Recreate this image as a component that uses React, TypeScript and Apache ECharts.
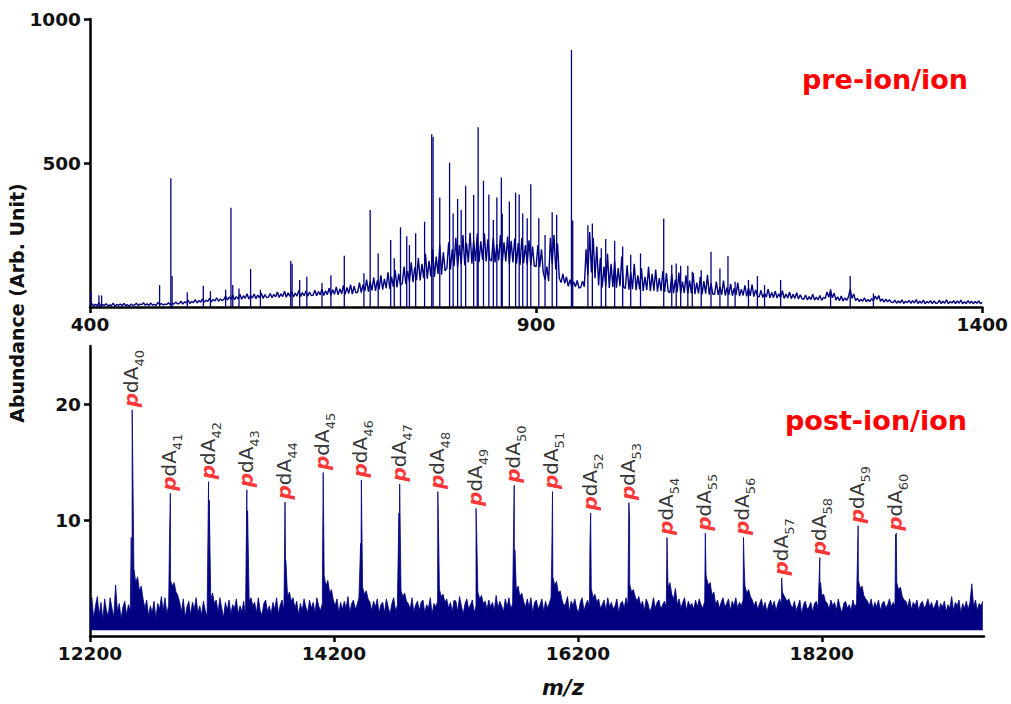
import React, { useEffect, useRef } from "react";
import * as echarts from "echarts";

const NAVY = "#000080";
const FONT = "DejaVu Sans";

// ---- top panel (pre-ion/ion) ----
const topStart = 400;
const topStep = 2;
const topBaseline = [
  6, 12, 4, 9, 5, 14, 3, 8, 6, 11, 4, 7, 5, 13, 3, 9, 6, 10, 4, 12, 5, 8, 3, 10, 6,
  7, 13, 5, 10, 8, 15, 6, 11, 5, 14, 7, 9, 6, 16, 8, 12, 7, 10, 9, 15, 8, 13, 10, 17, 11,
  12, 20, 10, 18, 14, 24, 12, 19, 15, 26, 14, 22, 17, 28, 16, 24, 19, 30, 18, 26, 21, 32, 20, 28, 23,
  26, 38, 24, 35, 27, 42, 25, 36, 28, 44, 27, 39, 30, 46, 28, 40, 31, 45, 29, 41, 32, 48, 30, 43, 33,
  34, 47, 32, 44, 35, 52, 33, 46, 36, 55, 34, 49, 37, 53, 35, 48, 38, 57, 36, 50, 39, 56, 37, 52, 40,
  41, 58, 39, 54, 42, 62, 40, 56, 43, 65, 41, 60, 44, 70, 42, 63, 46, 75, 44, 68, 47, 78, 45, 72, 49,
  52, 85, 50, 78, 55, 95, 53, 88, 58, 102, 56, 92, 61, 110, 60, 98, 65, 120, 63, 105, 70, 128, 68, 115, 75,
  82, 140, 80, 125, 88, 155, 86, 138, 93, 170, 92, 150, 100, 185, 98, 160, 106, 200, 104, 175, 115, 215, 112, 190, 125,
  135, 225, 130, 200, 142, 240, 138, 215, 148, 250, 145, 222, 155, 258, 150, 230, 160, 245, 156, 228, 163, 255, 158, 235, 165,
  160, 240, 155, 218, 162, 250, 152, 225, 158, 245, 148, 230, 155, 238, 150, 222, 146, 240, 152, 215, 148, 232, 144, 210, 142,
  140, 215, 138, 200, 120, 95, 140, 90, 240, 150, 250, 130, 220, 100, 85, 115, 82, 105, 72, 95, 68, 88, 70, 92, 66,
  68, 90, 70, 200, 110, 260, 120, 240, 100, 210, 75, 170, 68, 140, 72, 185, 66, 150, 70, 160, 67, 135, 72, 175, 69,
  64, 145, 60, 120, 62, 150, 58, 110, 61, 135, 56, 105, 59, 140, 55, 115, 57, 130, 53, 100, 56, 125, 52, 118, 54,
  50, 115, 48, 95, 51, 120, 47, 88, 49, 110, 46, 92, 48, 118, 45, 85, 47, 105, 44, 90, 46, 112, 43, 82, 45,
  44, 88, 42, 70, 43, 92, 40, 68, 42, 80, 39, 65, 41, 85, 38, 62, 40, 75, 37, 66, 39, 78, 36, 60, 38,
  35, 58, 33, 48, 34, 62, 32, 50, 33, 55, 31, 46, 32, 57, 30, 45, 31, 52, 29, 44, 30, 50, 28, 42, 29,
  27, 42, 25, 36, 26, 44, 24, 34, 25, 40, 23, 33, 30, 52, 34, 58, 32, 48, 24, 35, 22, 38, 21, 32, 23,
  35, 62, 30, 45, 22, 30, 19, 27, 20, 32, 18, 26, 19, 29, 22, 38, 26, 40, 20, 28, 17, 27, 18, 25, 17,
  15, 24, 13, 21, 14, 25, 12, 20, 15, 23, 13, 22, 14, 26, 12, 20, 13, 24, 11, 19, 14, 22, 12, 21, 13,
  14, 23, 12, 20, 13, 25, 11, 19, 14, 22, 12, 21, 13, 24, 11, 18, 12, 22, 13, 20, 11, 19, 13, 21, 12, 16,
];
const topPeaks: [number, number][] = [
  [401, 55], [410, 41], [413, 40], [478, 76], [490.6, 447], [492, 108], [509, 51], [527, 74],
  [535, 55], [552, 60], [558, 345], [560, 76], [567, 64], [580, 132], [591, 60], [625, 160],
  [626.5, 150], [635, 94], [643, 105], [660, 83], [670, 110], [685, 178], [707, 117], [714, 337],
  [723, 186], [737, 233], [741, 169], [748, 277], [755, 246], [758, 215], [765, 256], [775, 296],
  [783, 600], [784.5, 590], [792, 380], [803, 501], [807, 325], [812, 375], [816, 337], [821, 421],
  [830, 389], [834, 256], [835, 624], [841, 438], [847, 391], [852, 302], [856, 380], [861, 450],
  [862, 325], [870, 366], [877, 397], [881, 391], [885, 325], [890, 308], [894, 426], [903, 308],
  [910, 250], [918, 329], [923, 320], [939.6, 892], [941, 300], [958, 284], [963, 290], [973, 204],
  [978, 236], [988, 230], [997, 210], [1006, 181], [1017, 186], [1043, 307], [1052, 146], [1057, 151],
  [1062, 143], [1070, 143], [1075, 122], [1085, 128], [1096, 192], [1106, 134], [1115, 177], [1123, 88],
  [1138, 94], [1148, 108], [1156, 76], [1174, 94], [1230, 62], [1252, 108], [1278, 47],
];
const topXTicks = [400, 900, 1400];
const topYTicks = [500, 1000];

// ---- bottom panel (post-ion/ion) ----
const botStart = 12200;
const botStep = 15;
const botNoise = [
  2.0, 3.3, 1.5, 2.6, 3.4, 1.8, 2.9, 1.4, 3.2, 2.2, 1.7, 3.3, 2.4, 1.6, 4.4, 2.1, 2.8, 1.5, 2.5, 3.0,
  1.8, 2.7, 2.2, 1.6, 5.8, 4.6, 5.1, 3.9, 4.3, 3.2, 2.4, 3.1, 1.7, 2.6, 2.0, 3.0, 1.5, 2.8, 2.3, 3.4,
  2.2, 3.3, 1.9, 2.7, 4.8, 4.3, 4.6, 3.8, 3.5, 2.9, 2.1, 3.2, 1.6, 2.5, 3.0, 1.8, 2.9, 2.3, 3.3, 2.0,
  2.6, 1.8, 3.0, 2.2, 1.7, 3.6, 3.2, 3.7, 2.8, 3.1, 2.0, 3.3, 2.4, 1.6, 2.9, 2.2, 3.1, 1.9, 2.7, 2.4,
  3.2, 1.9, 2.6, 2.1, 3.0, 1.7, 3.5, 3.0, 3.3, 2.6, 2.9, 2.0, 3.3, 2.2, 1.8, 2.8, 3.1, 2.1, 2.6, 1.9,
  2.9, 2.3, 3.3, 1.9, 2.7, 3.1, 2.2, 4.1, 3.4, 3.8, 3.0, 3.3, 2.4, 3.0, 1.8, 2.8, 2.2, 3.2, 2.5, 2.0,
  3.1, 2.4, 2.9, 2.0, 3.3, 2.6, 2.2, 2.8, 5.2, 4.3, 4.8, 3.7, 4.0, 3.1, 2.6, 3.2, 2.0, 2.9, 2.3, 3.0,
  2.4, 3.4, 2.0, 2.8, 3.1, 2.3, 2.7, 3.3, 2.1, 4.2, 3.6, 3.9, 3.2, 2.9, 2.2, 3.0, 2.5, 3.2, 2.0, 2.7,
  2.9, 2.0, 3.2, 2.5, 1.9, 2.8, 3.3, 2.2, 2.6, 3.0, 3.9, 3.4, 3.7, 3.0, 2.8, 2.3, 3.3, 2.1, 2.7, 3.0,
  2.2, 2.9, 3.1, 2.0, 2.7, 2.4, 3.3, 1.9, 2.8, 2.5, 3.0, 4.0, 3.4, 3.6, 2.9, 3.2, 2.4, 2.9, 2.1, 3.1,
  3.0, 2.1, 3.4, 2.6, 1.9, 2.8, 3.2, 2.3, 2.7, 3.1, 2.0, 2.6, 3.8, 3.2, 3.5, 2.8, 3.0, 2.3, 3.1, 2.5,
  2.9, 2.2, 3.5, 2.4, 3.0, 2.6, 2.1, 3.2, 2.5, 3.3, 2.3, 2.8, 4.6, 4.0, 4.3, 3.4, 3.7, 3.0, 2.5, 3.2,
  2.5, 3.3, 2.0, 2.9, 3.1, 2.3, 2.7, 3.2, 2.1, 3.0, 2.4, 2.8, 3.3, 5.1, 4.4, 4.7, 3.7, 3.9, 3.1, 2.6,
  2.8, 3.4, 2.1, 3.0, 2.6, 3.2, 2.4, 2.0, 2.9, 3.3, 2.2, 2.7, 3.1, 2.5, 4.1, 3.3, 3.6, 2.9, 3.2, 2.4,
  2.7, 3.1, 2.2, 3.3, 2.5, 2.9, 2.3, 2.6, 3.2, 2.0, 2.8, 3.0, 2.4, 3.3, 2.6, 4.5, 3.8, 4.0, 3.4, 3.0,
  3.4, 2.6, 3.0, 2.2, 3.2, 2.8, 2.1, 2.5, 3.3, 2.4, 2.9, 3.1, 2.3, 2.7, 3.0, 2.5, 4.2, 4.6, 3.6, 3.2,
  4.1, 2.7, 3.2, 2.4, 2.9, 3.3, 2.2, 3.0, 2.6, 2.8, 2.3, 3.1, 2.5, 3.2, 2.7, 2.4, 3.0, 5.0, 4.4, 4.6,
  3.5, 3.8, 2.7, 3.1, 2.4, 2.9, 3.3, 2.5, 2.8, 3.2, 2.2, 3.0, 2.6, 3.3, 2.4, 2.9, 2.6, 3.1, 4.3, 3.7,
  4.0, 3.4, 3.1, 2.6, 3.0, 2.3, 2.8, 3.2, 2.4, 2.9, 2.1, 2.7, 3.1, 2.5, 3.0, 2.2, 2.8, 3.2, 2.6, 3.6,
  3.3, 3.0, 3.2, 2.7, 2.4, 3.0, 2.2, 2.6, 3.1, 1.9, 2.7, 3.0, 2.3, 2.5, 2.9, 2.1, 2.8, 3.0, 2.4, 3.9,
  3.5, 3.6, 3.0, 2.8, 2.3, 3.1, 2.6, 2.9, 2.2, 3.2, 2.5, 2.0, 2.8, 3.0, 2.4, 2.7, 2.2, 3.1, 2.5, 2.8,
  4.8, 4.1, 4.3, 3.5, 3.2, 3.0, 2.6, 3.2, 2.3, 2.9, 2.5, 3.1, 2.2, 2.8, 3.0, 2.4, 2.7, 3.2, 2.5, 2.9,
  2.6, 4.6, 4.0, 4.2, 3.4, 3.1, 3.0, 2.5, 3.2, 2.3, 2.9, 2.6, 3.1, 2.2, 2.8, 3.0, 2.4, 2.7, 3.2, 2.5,
  2.9, 2.3, 2.7, 3.1, 2.2, 2.8, 2.5, 3.0, 2.1, 2.7, 2.4, 3.4, 2.2, 2.9, 2.6, 3.1, 2.0, 2.8, 2.4, 3.0,
  2.3, 2.9, 4.5, 2.5, 3.1, 2.2, 2.8, 2.6, 3.0,
];
const ionNumbers = [40, 41, 42, 43, 44, 45, 46, 47, 48, 49, 50, 51, 52, 53, 54, 55, 56, 57, 58, 59, 60];
const mainPeaks: [number, number][] = [
  [12546, 19.5], [12859, 12.3], [13172, 13.3], [13486, 12.6], [13799, 11.55], [14112, 14.1],
  [14425, 13.45], [14739, 13.1], [15052, 12.45], [15365, 11.0], [15678, 13.0], [15992, 12.45],
  [16305, 10.6], [16618, 11.5], [16931, 8.5], [17245, 8.85], [17558, 8.5], [17871, 5.0],
  [18184, 6.75], [18498, 9.5], [18811, 8.85],
];
const shoulderPeaks: [number, number][] = [
  [12538, 8.5], [12852, 8.5], [13178, 11.7], [13492, 10.8], [13805, 6.5], [14106, 5.5],
  [14419, 8.0], [14733, 10.6], [15058, 8.9], [15371, 8.6], [15684, 7.4], [15986, 6.8],
  [16299, 7.8], [16624, 10.3], [16937, 5.2], [17251, 5.3], [17564, 6.0], [17877, 3.8],
  [18190, 4.6], [18492, 6.5], [18805, 8.7],
];
const botXTicks = [12200, 14200, 16200, 18200];
const botYTicks = [10, 20];

export default function App() {
  const ref = useRef<HTMLDivElement>(null);
  useEffect(() => {
    if (!ref.current) return;
    const chart = echarts.init(ref.current, undefined, { renderer: "svg" });

    const topLine = topBaseline.map((v, i) => [topStart + i * topStep, v]);
    const botLine = [
      ...botNoise.map((v, i) => [botStart + i * botStep, v]),
      ...mainPeaks,
      ...shoulderPeaks,
    ].sort((a, b) => a[0] - b[0]);

    const axisLine = { show: true, onZero: false, lineStyle: { color: "#000", width: 2.5 } };
    const axisTickBase = { show: true, length: 6, lineStyle: { color: "#000", width: 2.5 } };
    const labelBase = {
      color: "#111",
      fontFamily: FONT,
      fontWeight: "bold" as const,
      fontSize: 18.5,
      formatter: (v: number) => String(v),
    };

    chart.setOption({
      animation: false,
      grid: [
        { left: 90, right: 27, top: 19, height: 288 },
        { left: 90, right: 27, top: 346, height: 290 },
      ],
      xAxis: [
        {
          type: "value", gridIndex: 0, min: 400, max: 1400,
          axisLine, splitLine: { show: false },
          axisTick: { ...axisTickBase, customValues: topXTicks },
          axisLabel: { ...labelBase, margin: 8, customValues: topXTicks },
        },
        {
          type: "value", gridIndex: 1, min: 12200, max: 19530,
          axisLine, splitLine: { show: false },
          axisTick: { ...axisTickBase, customValues: botXTicks },
          axisLabel: { ...labelBase, margin: 8, customValues: botXTicks },
        },
      ],
      yAxis: [
        {
          type: "value", gridIndex: 0, min: 0, max: 1000,
          axisLine, splitLine: { show: false },
          axisTick: { ...axisTickBase, customValues: topYTicks },
          axisLabel: { ...labelBase, margin: 9, customValues: topYTicks },
        },
        {
          type: "value", gridIndex: 1, min: 0, max: 25,
          axisLine, splitLine: { show: false },
          axisTick: { ...axisTickBase, customValues: botYTicks },
          axisLabel: { ...labelBase, margin: 9, customValues: botYTicks },
        },
      ],
      series: [
        {
          type: "line", xAxisIndex: 0, yAxisIndex: 0, data: topLine,
          showSymbol: false, symbol: "none",
          lineStyle: { color: NAVY, width: 1.4 },
        },
        {
          type: "bar", xAxisIndex: 0, yAxisIndex: 0, data: topPeaks,
          barWidth: 1.3, itemStyle: { color: NAVY },
        },
        {
          type: "line", xAxisIndex: 1, yAxisIndex: 1, data: botLine,
          showSymbol: false, symbol: "none",
          lineStyle: { color: NAVY, width: 0.8 },
          areaStyle: { color: NAVY, opacity: 1, origin: 0.5 },
        },
        {
          type: "scatter", xAxisIndex: 1, yAxisIndex: 1, data: mainPeaks,
          symbolSize: 1, itemStyle: { color: "rgba(0,0,0,0)" },
          label: {
            show: true,
            position: "top",
            distance: 2,
            rotate: 90,
            align: "left",
            verticalAlign: "middle",
            formatter: (p: any) => `{p|p}{d|dA}{s|${ionNumbers[p.dataIndex]}}`,
            rich: {
              p: { color: "#ff0000", fontFamily: FONT, fontStyle: "italic", fontWeight: "bold", fontSize: 20, lineHeight: 22, verticalAlign: "top" },
              d: { color: "#000", fontFamily: FONT, fontSize: 20, lineHeight: 22, verticalAlign: "top" },
              s: { color: "#000", fontFamily: FONT, fontSize: 13, lineHeight: 13, padding: [12, 0, 0, 0], verticalAlign: "top" },
            },
          },
        },
      ],
      graphic: [
        {
          type: "text", x: 17, y: 303, rotation: Math.PI / 2,
          style: { text: "Abundance (Arb. Unit)", fill: "#111", fontFamily: FONT, fontWeight: "bold", fontSize: 19, align: "center", verticalAlign: "middle" },
        },
        {
          type: "text", x: 563, y: 688,
          style: { text: "m/z", fill: "#111", fontFamily: FONT, fontWeight: "bold", fontStyle: "italic", fontSize: 21, align: "center", verticalAlign: "middle" },
        },
        {
          type: "text", x: 885, y: 79,
          style: { text: "pre-ion/ion", fill: "#ff0000", fontFamily: FONT, fontWeight: "bold", fontSize: 27, align: "center", verticalAlign: "middle" },
        },
        {
          type: "text", x: 876, y: 420,
          style: { text: "post-ion/ion", fill: "#ff0000", fontFamily: FONT, fontWeight: "bold", fontSize: 27, align: "center", verticalAlign: "middle" },
        },
      ],
    });
    return () => chart.dispose();
  }, []);
  return (
    <div
      ref={ref}
      style={{ position: "fixed", left: 0, top: 0, width: 1011, height: 704, background: "#fff" }}
    />
  );
}
